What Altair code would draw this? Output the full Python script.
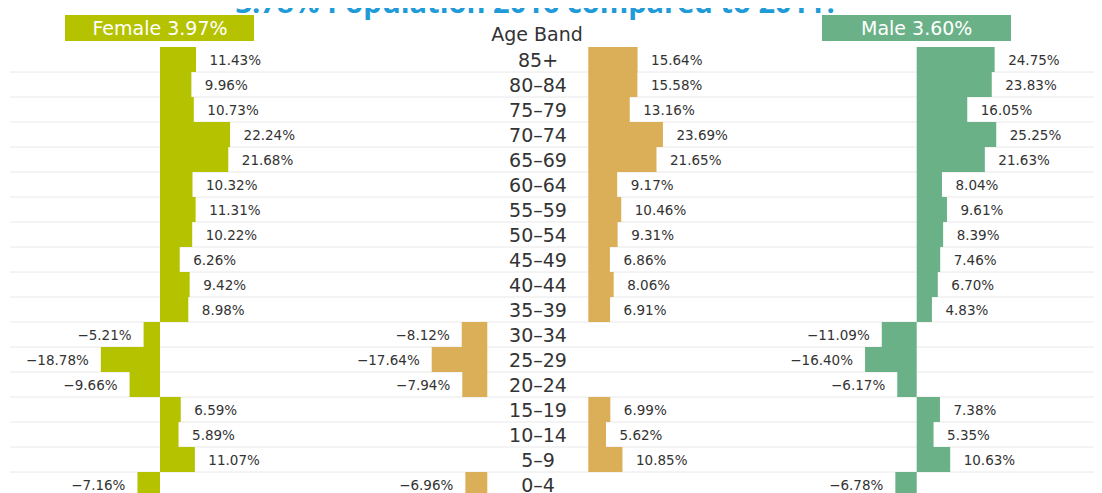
import altair as alt
import pandas as pd

# ---------------- data ----------------
ages = ["85+", "80–84", "75–79", "70–74", "65–69", "60–64", "55–59", "50–54",
        "45–49", "40–44", "35–39", "30–34", "25–29", "20–24", "15–19",
        "10–14", "5–9", "0–4"]
female = [11.43, 9.96, 10.73, 22.24, 21.68, 10.32, 11.31, 10.22, 6.26, 9.42,
          8.98, -5.21, -18.78, -9.66, 6.59, 5.89, 11.07, -7.16]
total = [15.64, 15.58, 13.16, 23.69, 21.65, 9.17, 10.46, 9.31, 6.86, 8.06,
         6.91, -8.12, -17.64, -7.94, 6.99, 5.62, 10.85, -6.96]
male = [24.75, 23.83, 16.05, 25.25, 21.63, 8.04, 9.61, 8.39, 7.46, 6.70,
        4.83, -11.09, -16.40, -6.17, 7.38, 5.35, 10.63, -6.78]

title_text = "3.78% Population 2016 compared to 2011?"
female_header = "Female 3.97%"
male_header = "Male 3.60%"
mid_header = "Age Band"

C_FEMALE = "#b5c200"
C_TOTAL = "#dbae58"
C_MALE = "#6ab187"
C_TEXT = "#333333"
C_GRID = "#e8e8e8"
FONT = "DejaVu Sans"

rows = []
for i, a in enumerate(ages):
    rows.append({"age": a, "panel": "Female", "value": female[i]})
    rows.append({"age": a, "panel": "Total", "value": total[i]})
    rows.append({"age": a, "panel": "Male", "value": male[i]})
df = pd.DataFrame(rows)

K = 3.15      # pixels per percentage point
W = 1084
H = 450

base = alt.Chart(df).transform_calculate(
    label="format(datum.value, '.2f') + '%'"
)

y_scale = alt.Scale(paddingInner=0, paddingOuter=0)
y_enc = alt.Y("age:N", sort=ages, scale=y_scale, axis=None)


def xscale(zero):
    return alt.Scale(domain=[-30, 30], range=[zero - 30 * K, zero + 30 * K],
                     nice=False, zero=False)


def panel(name, sign, zero, color):
    cond = "datum.value >= 0" if sign > 0 else "datum.value < 0"
    src = base.transform_filter(f"datum.panel == '{name}' && {cond}")
    x_enc = alt.X("value:Q", scale=xscale(zero), axis=None)
    bars = src.mark_bar(color=color).encode(x=x_enc, x2=alt.datum(0), y=y_enc)
    labels = src.mark_text(
        align="left" if sign > 0 else "right",
        dx=13.5 if sign > 0 else -12,
        baseline="middle", dy=1,
        font=FONT, fontSize=13.5, color=C_TEXT,
    ).encode(x=x_enc, y=y_enc, text="label:N")
    return [bars, labels]


layers = []

# row separators (at the bottom of each age band), drawn behind everything
grid = alt.Chart(pd.DataFrame({"age": ages})).mark_rule(
    color=C_GRID, strokeWidth=1
).encode(
    y=alt.Y("age:N", sort=ages, scale=y_scale, axis=None, bandPosition=1),
    x=alt.value(0), x2=alt.value(W),
)
layers.append(grid)

layers += panel("Female", 1, 150, C_FEMALE)
layers += panel("Female", -1, 150, C_FEMALE)
layers += panel("Total", 1, 578.3, C_TOTAL)
layers += panel("Total", -1, 477.3, C_TOTAL)
layers += panel("Male", 1, 906.7, C_MALE)
layers += panel("Male", -1, 906.7, C_MALE)

# age band labels in the middle column
age_labels = alt.Chart(pd.DataFrame({"age": ages})).mark_text(
    align="center", baseline="middle", dy=1, font=FONT, fontSize=19, color=C_TEXT
).encode(x=alt.value(528), y=y_enc, text="age:N")
layers.append(age_labels)

# header boxes and texts
hdr = pd.DataFrame({"t": [0]})
layers.append(alt.Chart(hdr).mark_rect(color=C_FEMALE).encode(
    x=alt.value(55), x2=alt.value(244), y=alt.value(-32), y2=alt.value(-6)))
layers.append(alt.Chart(hdr).mark_rect(color=C_MALE).encode(
    x=alt.value(812), x2=alt.value(1001), y=alt.value(-32), y2=alt.value(-6)))
layers.append(alt.Chart(hdr).mark_text(
    font=FONT, fontSize=19, color="white", align="center", baseline="middle", dy=1,
    text=female_header).encode(x=alt.value(150), y=alt.value(-19)))
layers.append(alt.Chart(hdr).mark_text(
    font=FONT, fontSize=19, color="white", align="center", baseline="middle", dy=1,
    text=male_header).encode(x=alt.value(906.7), y=alt.value(-19)))
layers.append(alt.Chart(hdr).mark_text(
    font=FONT, fontSize=19, color=C_TEXT, align="center", baseline="alphabetic",
    text=mid_header).encode(x=alt.value(527), y=alt.value(-6)))
layers.append(alt.Chart(hdr).mark_text(
    font="Open Sans", fontSize=29, fontWeight="bold", color="#1f9bd7",
    align="center", baseline="alphabetic",
    text=title_text).encode(x=alt.value(527), y=alt.value(-34)))

chart = alt.layer(*layers).resolve_scale(x="independent").properties(
    width=W, height=H,
    autosize=alt.AutoSizeParams(type="none"),
    padding={"left": 2, "top": 39, "right": 0, "bottom": 0},
).configure_view(stroke=None)

chart.save("out.html", embed_options={"renderer": "svg", "actions": False})
